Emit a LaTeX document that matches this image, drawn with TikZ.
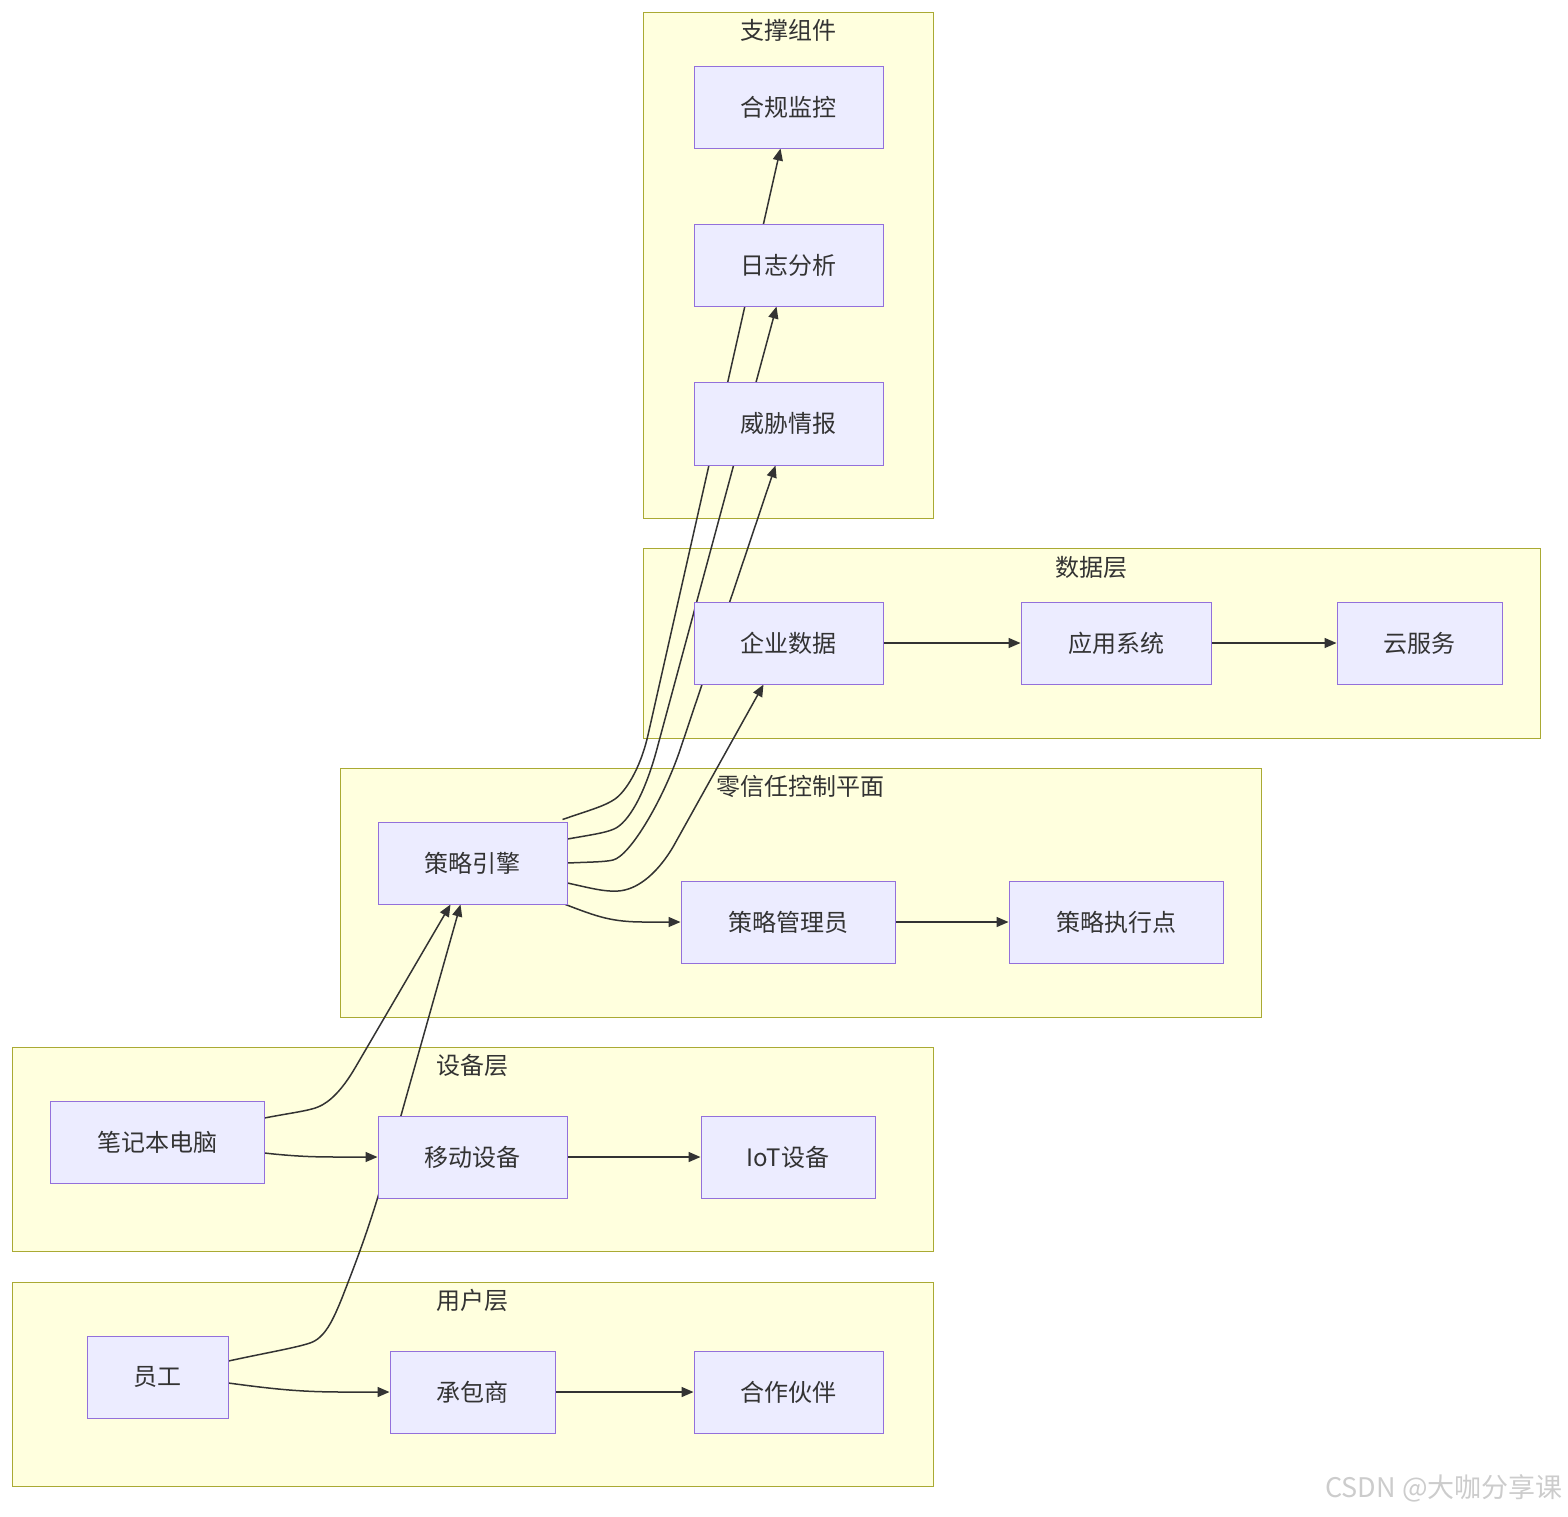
\documentclass[tikz,border=0pt]{standalone}
\usepackage{fontspec}
\setmainfont{Noto Sans CJK SC}
\usetikzlibrary{arrows.meta,calc}
\definecolor{nodefill}{HTML}{ECECFF}
\definecolor{nodeline}{HTML}{9370DB}
\definecolor{clfill}{HTML}{FFFFDE}
\definecolor{clline}{HTML}{AAAA33}
\definecolor{edgecol}{HTML}{333333}
\definecolor{txt}{HTML}{333333}
\pgfdeclarelayer{back}
\pgfdeclarelayer{mid}
\pgfsetlayers{back,mid,main}
\begin{document}
\begin{tikzpicture}[x=0.5pt,y=-0.5pt,
  font=\fontsize{12pt}{14pt}\selectfont, text=txt,
  box/.style 2 args={draw=nodeline, fill=nodefill, line width=0.5pt,
    minimum width=#1*0.5pt, minimum height=#2*0.5pt, inner sep=0pt},
  cluster/.style={draw=clline, fill=clfill, line width=0.5pt},
  ctitle/.style={inner sep=0pt, text=txt},
  conn/.style={draw=edgecol, line width=0.75pt, -{Triangle[length=6pt,width=5pt]}}]
\useasboundingbox (0,0) rectangle (1568,1516);

% clusters
\begin{pgfonlayer}{back}
\draw[cluster] (643,12) rectangle (933,518);
\draw[cluster] (643,548) rectangle (1540,738);
\draw[cluster] (340,768) rectangle (1261,1017);
\draw[cluster] (12,1047) rectangle (933,1251);
\draw[cluster] (12,1282) rectangle (933,1486);
\end{pgfonlayer}
\node[ctitle] (tzc) at (788,30) {支撑组件};
\node[ctitle] (tsj) at (1091,567) {数据层};
\node[ctitle] (tlx) at (800,786) {零信任控制平面};
\node[ctitle] (tsb) at (472,1065) {设备层};
\node[ctitle] (tyh) at (472,1300) {用户层};

% nodes
\node[box={189}{82}] (hgjk) at (788.5,107) {合规监控};
\node[box={189}{82}] (rzfx) at (788.5,265) {日志分析};
\node[box={189}{83}] (wxqb) at (788.5,423.5) {威胁情报};
\node[box={189}{82}] (qysj) at (788.5,643) {企业数据};
\node[box={190}{82}] (yyxt) at (1116,643) {应用系统};
\node[box={165}{82}] (yfw) at (1419.5,643) {云服务};
\node[box={189}{82}] (clyq) at (472.5,863) {策略引擎};
\node[box={214}{82}] (clgly) at (788,922) {策略管理员};
\node[box={214}{82}] (clzxd) at (1116,922) {策略执行点};
\node[box={214}{82}] (bjb) at (157,1142) {笔记本电脑};
\node[box={189}{82}] (yd) at (472.5,1157) {移动设备};
\node[box={174}{82}] (iot) at (788,1157) {IoT设备};
\node[box={141}{82}] (yg) at (157.5,1377) {员工};
\node[box={165}{82}] (cbs) at (472.5,1392) {承包商};
\node[box={189}{82}] (hzhb) at (788.5,1392) {合作伙伴};

% edges
\begin{pgfonlayer}{mid}
\draw[conn] ($(clyq.north east)+(-5,-2)$) .. controls (590,810) and (605,806) .. (615,799)
  .. controls (625,792) and (640,770) .. (648,735) -- ($(hgjk.south)+(-8,0)$);
\draw[conn] ($(clyq.east)+(0,-24)$) .. controls (590,835) and (605,833) .. (614,829)
  .. controls (628,823) and (645,795) .. (658,745) -- ($(rzfx.south)+(-12,0)$);
\draw[conn] (clyq.east) .. controls (590,862) and (605,862) .. (613,860)
  .. controls (630,856) and (663,800) .. (680,750) -- ($(wxqb.south)+(-13,0)$);
\draw[conn] ($(clyq.east)+(0,20)$) .. controls (590,888) and (605,892) .. (618,891)
  .. controls (635,890) and (655,877) .. (673,847) -- ($(qysj.south)+(-25,0)$);
\draw[conn] ($(clyq.south east)+(-2,0)$) .. controls (598,917) and (612,922) .. (645,922) -- (clgly.west);
\draw[conn] (clgly.east) -- (clzxd.west);
\draw[conn] (qysj.east) -- (yyxt.west);
\draw[conn] (yyxt.east) -- (yfw.west);
\draw[conn] ($(bjb.east)+(0,-24)$) .. controls (290,1113) and (308,1111) .. (318,1107)
  .. controls (330,1102) and (342,1090) .. (355,1068) -- ($(clyq.south)+(-22,0)$);
\draw[conn] ($(bjb.east)+(0,11)$) .. controls (300,1157) and (320,1157) .. (345,1157) -- (yd.west);
\draw[conn] (yd.east) -- (iot.west);
\draw[conn] ($(yg.east)+(0,-16)$) .. controls (265,1353) and (295,1348) .. (310,1343)
  .. controls (325,1338) and (333,1320) .. (342,1298)
  .. controls (352,1272) and (365,1240) .. (380,1190) -- ($(clyq.south)+(-12,0)$);
\draw[conn] ($(yg.east)+(0,6)$) .. controls (280,1390) and (305,1392) .. (345,1392) -- (cbs.west);
\draw[conn] (cbs.east) -- (hzhb.west);
\end{pgfonlayer}

\node[anchor=east, text=gray!40, font=\fontsize{13.5pt}{15pt}\selectfont, inner sep=0pt] (wm) at (1563,1488) {CSDN @大咖分享课};
\end{tikzpicture}
\end{document}
